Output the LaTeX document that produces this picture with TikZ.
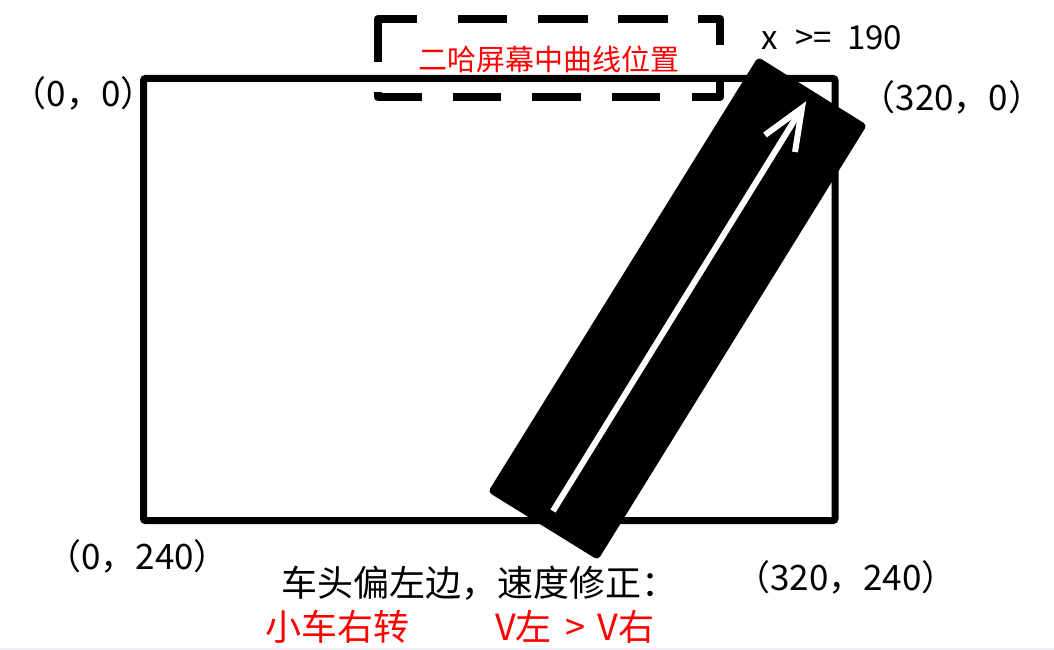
\documentclass[tikz,border=0pt]{standalone}
\usepackage{fontspec}
\setmainfont{Noto Sans CJK SC}
\definecolor{stripgray}{HTML}{EEEEF4}
\begin{document}
\begin{tikzpicture}[x=1pt,y=-1pt,
  coordlabel/.style={inner sep=0pt,font=\fontsize{35}{40}\selectfont},
  note/.style={inner sep=0pt,anchor=west,font=\fontsize{36}{40}\selectfont},
  frame/.style={draw=black,line width=7pt,rounded corners=2pt},
  dashpiece/.style={draw=black,line width=8.5pt,line join=round},
  arrowline/.style={draw=white,line width=6pt}]
\useasboundingbox (0,0) rectangle (1054,650);
\fill[white] (0,0) rectangle (1054,650);
\fill[stripgray] (0,647.5) rectangle (1054,650);

% screen frame
\draw[frame] (143.5,78.5) rectangle (835,520.5);

% dashed box drawn as separate pieces
\draw[dashpiece] (378,62) -- (378,19) -- (417,19);
\draw[dashpiece] (458,19) -- (507,19);
\draw[dashpiece] (538,19) -- (588,19);
\draw[dashpiece] (618,19) -- (668,19);
\draw[dashpiece] (698,19) -- (720,19) -- (720,45);
\draw[dashpiece] (720,82) -- (720,97) -- (692,97);
\draw[dashpiece] (660,97) -- (612,97);
\draw[dashpiece] (581,97) -- (532,97);
\draw[dashpiece] (501,97) -- (453,97);
\draw[dashpiece] (422,97) -- (378,97) -- (378,92);

% black track
\coordinate (tl) at (758,57);
\coordinate (tr) at (867,125);
\coordinate (br) at (598,560);
\coordinate (bl) at (488,492);
\fill[black,rounded corners=4pt] (tl) -- (tr) -- (br) -- (bl) -- cycle;

% white arrow
\coordinate (tail) at (553,511);
\coordinate (tip) at (802,108);
\coordinate (barbL) at (765,135);
\coordinate (barbR) at (795,152);
\draw[arrowline] (tail) -- (tip);
\draw[arrowline,line join=miter] (barbL) -- (tip) -- (barbR);

% labels
\node[coordlabel] (c00) at (83.5,93) {（0，0）};
\node[coordlabel] (c3200) at (952,97) {（320，0）};
\node[coordlabel] (c0240) at (137.5,556) {（0，240）};
\node[coordlabel] (c320240) at (846,577) {（320，240）};
\node[inner sep=0pt,anchor=west,font=\fontsize{33}{36}\selectfont] (xcond) at (761,38) {x\hspace{18pt}>=\hspace{15pt}190};
\node[inner sep=0pt,text=red,font=\fontsize{29}{32}\selectfont] (curve) at (549,59) {二哈屏幕中曲线位置};
\node[note] (head) at (281,583) {车头偏左边，速度修正：};
\node[note,text=red] (turn) at (265,627) {小车右转};
\node[note,text=red] (speed) at (495,627) {V左\hspace{14pt}>\hspace{12pt}V右};
\end{tikzpicture}
\end{document}
